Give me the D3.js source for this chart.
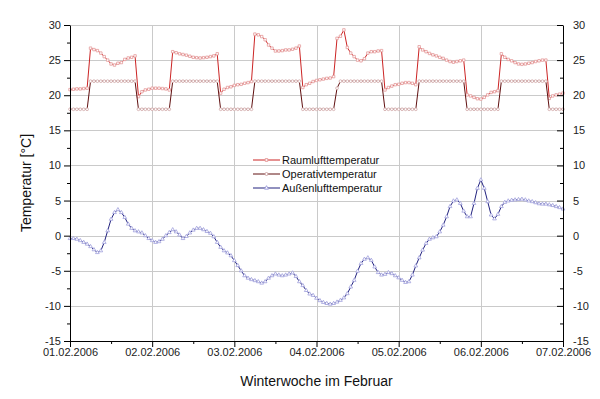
<!DOCTYPE html>
<html>
<head>
<meta charset="utf-8">
<script src="https://cdn.jsdelivr.net/npm/d3@7"></script>
<style>
  body { margin: 0; background: #fff; }
  svg { font-family: "Liberation Sans", Arial, sans-serif; }
</style>
</head>
<body>
<svg width="600" height="399"></svg>
<script>
// hourly values, 01.02.2006 00:00 .. 07.02.2006 00:00
const startDate = Date.UTC(2006, 1, 1);
const dayTicks = ["01.02.2006", "02.02.2006", "03.02.2006", "04.02.2006", "05.02.2006", "06.02.2006", "07.02.2006"];

const raumluft = [
  20.8, 20.85, 20.9, 20.9, 20.95, 21.0,
  26.7, 26.5, 26.35, 26.0, 25.5, 25.0, 24.45, 24.3, 24.55, 24.65, 25.1, 25.3, 25.4, 25.6,
  19.8, 20.5, 20.75, 20.85, 21.0, 21.0, 21.0, 20.95, 20.9, 20.75,
  26.2, 26.05, 25.9, 25.8, 25.7, 25.55, 25.4, 25.35, 25.3, 25.35, 25.4, 25.5, 25.6, 25.9,
  20.3, 20.85, 21.1, 21.2, 21.4, 21.5, 21.55, 21.7, 21.8, 21.95,
  28.7, 28.6, 28.35, 27.9, 27.15, 26.7, 26.3, 26.3, 26.35, 26.45, 26.45, 26.55, 26.7, 27.0,
  21.1, 21.5, 21.7, 21.95, 22.1, 22.2, 22.3, 22.4, 22.45, 22.65,
  28.1, 28.4, 29.3, 26.8, 26.0, 25.5, 25.0, 24.9, 25.2, 26.0, 26.2, 26.2, 26.3, 26.35,
  20.75, 21.1, 21.3, 21.5, 21.55, 21.7, 21.8, 21.8, 21.7, 21.5,
  26.9, 26.45, 26.2, 25.95, 25.75, 25.6, 25.4, 25.25, 25.0, 24.8, 24.7, 24.8, 24.9, 25.0,
  20.05, 19.9, 19.7, 19.5, 19.45, 19.7, 20.05, 20.4, 20.5, 20.65,
  25.9, 25.4, 25.1, 24.9, 24.65, 24.45, 24.4, 24.45, 24.55, 24.65, 24.8, 24.9, 25.0, 25.0,
  19.55, 19.9, 20.05, 20.15, 20.3
];

const operativ = [
  18, 18, 18, 18, 18, 18,
  22, 22, 22, 22, 22, 22, 22, 22, 22, 22, 22, 22, 22, 22,
  18, 18, 18, 18, 18, 18, 18, 18, 18, 18,
  22, 22, 22, 22, 22, 22, 22, 22, 22, 22, 22, 22, 22, 22,
  18, 18, 18, 18, 18, 18, 18, 18, 18, 18,
  22, 22, 22, 22, 22, 22, 22, 22, 22, 22, 22, 22, 22, 22,
  18, 18, 18, 18, 18, 18, 18, 18, 18, 18,
  21, 22, 22, 22, 22, 22, 22, 22, 22, 22, 22, 22, 22, 22,
  18, 18, 18, 18, 18, 18, 18, 18, 18, 18,
  22, 22, 22, 22, 22, 22, 22, 22, 22, 22, 22, 22, 22, 22,
  18, 18, 18, 18, 18, 18, 18, 18, 18, 18,
  22, 22, 22, 22, 22, 22, 22, 22, 22, 22, 22, 22, 22, 22,
  18, 18, 18, 18, 18
];

const aussenluft = [
  -0.4, -0.4, -0.5, -0.7, -0.95, -1.2, -1.55, -2.0, -2.4, -2.15,
  -0.95, 0.7, 2.35, 3.3, 3.7, 3.3, 2.6, 1.65, 1.05, 0.7,
  0.55, 0.4, 0.0, -0.4, -0.7, -0.95, -0.85, -0.5, 0.0, 0.45,
  0.85, 0.55, 0.1, -0.4, -0.1, 0.4, 0.8, 1.05, 1.05, 0.85,
  0.6, 0.35, -0.15, -0.95, -1.65, -2.15, -2.45, -2.85, -3.55, -4.25,
  -5.0, -5.7, -6.05, -6.25, -6.4, -6.55, -6.75, -6.55, -6.05, -5.7,
  -5.45, -5.6, -5.7, -5.6, -5.45, -5.3, -5.8, -6.55, -7.1, -7.8,
  -8.3, -8.5, -8.9, -9.25, -9.5, -9.65, -9.75, -9.65, -9.45, -9.2,
  -8.85, -8.25, -7.3, -6.35, -5.05, -3.95, -3.35, -3.15, -3.5, -4.45,
  -5.25, -5.6, -5.5, -5.25, -5.4, -5.7, -6.0, -6.35, -6.65, -6.55,
  -5.6, -4.3, -3.15, -2.05, -1.1, -0.5, -0.3, -0.15, 0.55, 1.5,
  2.7, 4.15, 4.95, 5.1, 4.6, 3.5, 2.7, 2.7, 4.6, 6.75,
  7.95, 6.75, 4.85, 2.95, 2.4, 3.05, 4.15, 4.75, 4.95, 5.05,
  5.1, 5.15, 5.2, 5.1, 4.95, 4.85, 4.7, 4.55, 4.5, 4.5,
  4.4, 4.3, 4.15, 4.0, 3.8
];

const yTicks = [-15, -10, -5, 0, 5, 10, 15, 20, 25, 30];

const series = [
  { name: "Raumlufttemperatur", values: raumluft, line: "#cc2424", mark: "#e49a9a", symbol: d3.symbolSquare },
  { name: "Operativtemperatur", values: operativ, line: "#601010", mark: "#cfa6a6", symbol: d3.symbolCircle },
  { name: "Außenlufttemperatur", values: aussenluft, line: "#22227e", mark: "#a0a0dc", symbol: d3.symbolTriangle }
];

const svg = d3.select("svg");
const margin = { left: 70, right: 37, top: 25, bottom: 58 };
const W = 600, H = 399;

const parseDay = d3.utcParse("%d.%m.%Y");
const x = d3.scaleUtc()
  .domain([parseDay(dayTicks[0]), parseDay(dayTicks[dayTicks.length - 1])])
  .range([margin.left, W - margin.right]);
const y = d3.scaleLinear().domain([-15, 30]).range([H - margin.bottom, margin.top]);

const hourDate = i => new Date(startDate + i * 3600 * 1000);
const dayDates = dayTicks.map(parseDay);
const halfDays = dayDates.slice(0, -1).map(d => new Date(+d + 12 * 3600 * 1000));

// grid
const grid = svg.append("g").attr("stroke", "#cacaca").attr("stroke-width", 1);
grid.selectAll("line.h").data(yTicks.filter(v => v > -15))
  .join("line")
  .attr("x1", margin.left).attr("x2", W - margin.right)
  .attr("y1", d => Math.round(y(d)) + 0.5).attr("y2", d => Math.round(y(d)) + 0.5);
grid.selectAll("line.v").data(dayDates.slice(1, -1))
  .join("line")
  .attr("x1", d => Math.round(x(d)) + 0.5).attr("x2", d => Math.round(x(d)) + 0.5)
  .attr("y1", margin.top).attr("y2", H - margin.bottom);

// series
series.forEach(s => {
  const pts = s.values.map((v, i) => [hourDate(i), v]);
  svg.append("path")
    .datum(pts)
    .attr("fill", "none")
    .attr("stroke", s.line)
    .attr("stroke-width", 1)
    .attr("d", d3.line().x(d => x(d[0])).y(d => y(d[1])));
  svg.append("g").selectAll("path")
    .data(pts)
    .join("path")
    .attr("transform", d => `translate(${x(d[0])},${y(d[1])})`)
    .attr("d", d3.symbol(s.symbol, 6))
    .attr("fill", "#fff")
    .attr("stroke", s.mark)
    .attr("stroke-width", 0.8);
});

// axes
const fmt = d => d3.format("")(d).replace("−", "-");
const styleAxis = g => {
  g.selectAll("text").attr("fill", "#222").style("font-size", "11px");
  g.selectAll("line, path").attr("stroke", "#000");
};

svg.append("g")
  .attr("transform", `translate(${margin.left},0)`)
  .call(d3.axisLeft(y).tickValues(yTicks).tickSize(6).tickPadding(3).tickSizeOuter(0).tickFormat(fmt))
  .call(styleAxis);
svg.append("g")
  .attr("transform", `translate(${margin.left},0)`)
  .call(d3.axisLeft(y).tickValues(yTicks.slice(0, -1).map(v => v + 2.5)).tickSize(3).tickFormat(""))
  .call(g => g.select(".domain").remove())
  .call(styleAxis);

svg.append("g")
  .attr("transform", `translate(${W - margin.right},0)`)
  .call(d3.axisRight(y).tickValues(yTicks).tickSize(-6).tickPadding(10).tickSizeOuter(0).tickFormat(fmt))
  .call(styleAxis);
svg.append("g")
  .attr("transform", `translate(${W - margin.right},0)`)
  .call(d3.axisRight(y).tickValues(yTicks.slice(0, -1).map(v => v + 2.5)).tickSize(-3).tickFormat(""))
  .call(g => g.select(".domain").remove())
  .call(styleAxis);

svg.append("g")
  .attr("transform", `translate(0,${H - margin.bottom})`)
  .call(d3.axisBottom(x).tickValues(dayDates).tickSize(6).tickPadding(1).tickSizeOuter(0)
    .tickFormat(d3.utcFormat("%d.%m.%Y")))
  .call(styleAxis);
svg.append("g")
  .attr("transform", `translate(0,${H - margin.bottom})`)
  .call(d3.axisBottom(x).tickValues(halfDays).tickSize(3).tickFormat(""))
  .call(g => g.select(".domain").remove())
  .call(styleAxis);

// titles
svg.append("text")
  .attr("transform", `translate(31,${(margin.top + H - margin.bottom) / 2}) rotate(-90)`)
  .attr("text-anchor", "middle")
  .attr("fill", "#111")
  .style("font-size", "14px")
  .text("Temperatur [°C]");
svg.append("text")
  .attr("x", (margin.left + W - margin.right) / 2)
  .attr("y", 386)
  .attr("text-anchor", "middle")
  .attr("fill", "#111")
  .style("font-size", "14px")
  .text("Winterwoche im Februar");

// legend
const legend = svg.append("g").attr("transform", "translate(253,160)");
const row = legend.selectAll("g").data(series).join("g")
  .attr("transform", (d, i) => `translate(0,${i * 14})`);
row.append("line")
  .attr("x1", 0).attr("x2", 27).attr("y1", 0).attr("y2", 0)
  .attr("stroke", d => d.line).attr("stroke-width", 1);
row.append("path")
  .attr("transform", "translate(13.5,0)")
  .attr("d", d => d3.symbol(d.symbol, 7)())
  .attr("fill", "#fff")
  .attr("stroke", d => d.mark);
row.append("text")
  .attr("x", 29).attr("y", 4)
  .attr("fill", "#111")
  .style("font-size", "11px")
  .text(d => d.name);
</script>
</body>
</html>
